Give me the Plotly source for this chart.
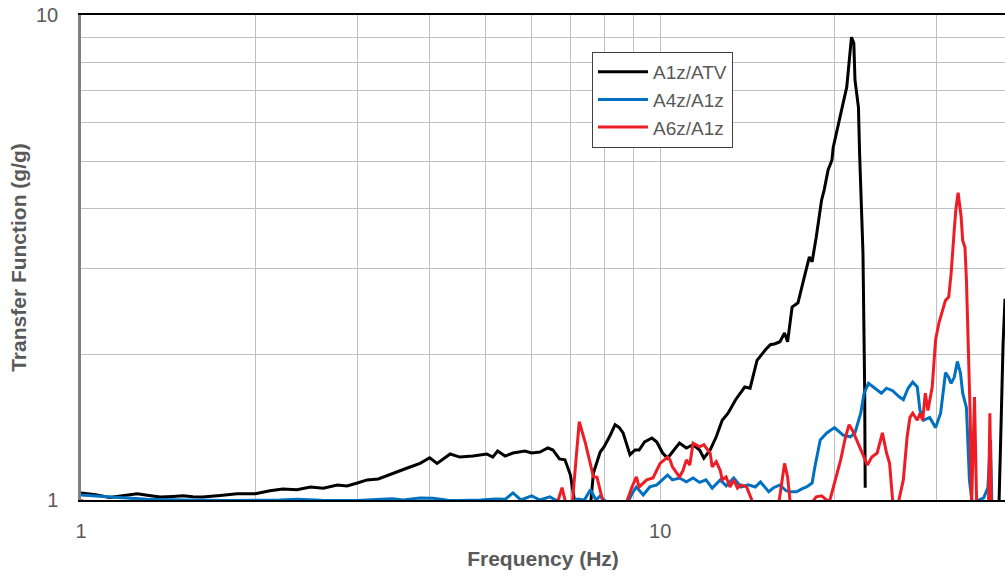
import math
import plotly.graph_objects as go

# ---------------- data ----------------
# A1z/ATV (black)
f_a1z = [1.0, 1.06, 1.12, 1.19, 1.25, 1.31, 1.37, 1.44, 1.5, 1.56, 1.62, 1.74, 1.86, 2.0,
         2.12, 2.23, 2.36, 2.49, 2.62, 2.77, 2.88, 3.0, 3.12, 3.26, 3.46, 3.66, 3.85, 4.0,
         4.12, 4.34, 4.51, 4.75, 5.02, 5.14, 5.24, 5.4, 5.57, 5.84, 6.0, 6.2, 6.4, 6.53,
         6.7, 6.85, 7.0, 7.14, 7.3, 7.45, 7.58, 7.67, 7.88, 8.0, 8.2, 8.36, 8.5, 8.63, 8.87,
         9.05, 9.2, 9.4, 9.68, 9.87, 10.1, 10.3, 10.5, 10.8, 11.1, 11.4, 11.7, 11.9, 12.2,
         12.5, 12.8, 13.1, 13.5, 14.0, 14.3, 14.7, 15.2, 15.5, 15.8, 16.1, 16.4, 16.6, 16.9,
         17.3, 17.8, 18.1, 18.3, 18.6, 19.0, 19.2, 19.5, 19.8, 19.9, 20.3, 20.7, 21.0, 21.2,
         21.4, 21.6, 21.7, 22.0, 22.1, 22.4, 22.5, 22.55, 22.6, 22.7,
         38.4, 38.6, 38.8, 39.1, 39.4]
v_a1z = [1.034, 1.025, 1.012, 1.02, 1.03, 1.022, 1.014, 1.017, 1.02, 1.016, 1.014, 1.022, 1.03, 1.03,
         1.045, 1.053, 1.05, 1.064, 1.058, 1.074, 1.069, 1.084, 1.1, 1.105, 1.137, 1.164, 1.19, 1.222,
         1.19, 1.244, 1.226, 1.232, 1.244, 1.226, 1.262, 1.232, 1.25, 1.262, 1.25, 1.256, 1.28, 1.268,
         1.215, 1.21, 1.126, 0.97, 0.9, 0.9, 0.97, 1.137, 1.256, 1.287, 1.36, 1.43, 1.41, 1.375, 1.24,
         1.268, 1.268, 1.317, 1.342, 1.317, 1.25, 1.22, 1.256, 1.31, 1.28, 1.3, 1.268, 1.22, 1.268,
         1.35, 1.46, 1.51, 1.61, 1.71, 1.70, 1.94, 2.04, 2.09, 2.1, 2.12, 2.21, 2.12, 2.5,
         2.55, 2.93, 3.17, 3.1, 3.48, 4.15, 4.36, 4.79, 5.02, 5.33, 5.98, 6.58, 7.1, 8.07,
         9.0, 8.75, 7.35, 6.45, 5.2, 3.23, 2.35, 1.71, 1.06, None,
         0.9, 1.25, 1.45, 2.1, 2.6]

# A4z/A1z (blue)
f_a4z = [1.0, 1.1, 1.2, 1.3, 1.5, 1.8, 2.2, 2.36, 2.6, 3.0, 3.3, 3.45, 3.6, 3.85, 4.05, 4.3,
         4.5, 4.9, 5.2, 5.4, 5.57, 5.75, 6.0, 6.2, 6.45, 6.6, 6.8, 7.0, 7.2, 7.4, 7.58, 7.75,
         7.88, 8.0, 8.2, 8.4, 8.6, 8.8, 8.94, 9.1, 9.35, 9.6, 9.87, 10.1, 10.3, 10.5, 10.8,
         11.1, 11.4, 11.7, 12.0, 12.3, 12.7, 13.0, 13.4, 13.8, 14.2, 14.6, 14.9, 15.4, 15.7,
         16.1, 16.5, 16.8, 17.2, 17.6, 17.9, 18.3, 18.5, 18.9, 19.4, 20.0, 20.7, 21.3, 21.7,
         22.2, 22.5, 22.9, 23.6, 24.1, 24.6, 25.2, 25.9, 26.3, 26.8, 27.3, 27.8, 28.1, 28.5,
         29.2, 29.9, 30.5, 31.1, 31.5, 31.8, 32.2, 32.6, 33.0, 33.3, 33.8, 34.0, 34.2, 34.6,
         35.5, 36.2, 36.8, 37.2, 37.4, 38.0]
v_a4z = [1.024, 1.015, 1.008, 1.003, 1.0, 0.998, 1.0, 1.004, 0.999, 0.998, 1.003, 1.006, 1.0, 1.01,
         1.008, 0.999, 0.998, 1.0, 1.005, 1.003, 1.034, 1.0, 1.02, 1.0, 1.015, 1.0, 0.99, 0.99, 1.005,
         1.0, 1.05, 1.0, 1.02, 1.0, 0.98, 0.97, 0.97, 0.99, 1.03, 1.064, 1.024, 1.064, 1.074, 1.1,
         1.126, 1.1, 1.11, 1.09, 1.11, 1.087, 1.1, 1.058, 1.1, 1.07, 1.11, 1.064, 1.075, 1.064,
         1.09, 1.04, 1.06, 1.074, 1.045, 1.04, 1.04, 1.055, 1.064, 1.084, 1.17, 1.33, 1.375, 1.41,
         1.36, 1.35, 1.375, 1.51, 1.66, 1.74, 1.69, 1.66, 1.70, 1.68, 1.63, 1.61, 1.70, 1.75, 1.71,
         1.53, 1.46, 1.48, 1.41, 1.51, 1.83, 1.79, 1.74, 1.79, 1.93, 1.83, 1.66, 1.55, 1.31, 1.1,
         0.98, 1.0, 1.01, 1.06, 1.33, 0.98, 0.9]

# A6z/A1z (red)
f_a6z = [1.0, 1.05, 3.0, 6.6, 6.77, 6.88, 7.05, 7.25, 7.43, 7.58, 7.67, 7.78, 7.88, 8.0, 8.7,
         8.94, 9.1, 9.2, 9.48, 9.72, 10.0, 10.3, 10.4, 10.5, 10.8, 10.95, 11.1, 11.25, 11.4,
         11.7, 11.9, 12.2, 12.3, 12.5, 12.7, 12.8, 13.0, 13.2, 13.4, 13.6, 13.8, 14.1, 14.4,
         14.6, 16.0, 16.2, 16.4, 16.6, 16.8, 18.2, 18.6, 19.0, 19.6, 20.0, 20.5, 20.9, 21.2,
         21.5, 21.9, 22.4, 22.8, 23.2, 23.7, 24.2, 24.6, 24.9, 25.2, 25.7, 26.3, 26.7, 27.0,
         27.3, 27.8, 28.1, 28.4, 28.7, 29.0, 29.5, 29.9, 30.3, 30.7, 31.1, 31.5, 31.7, 31.8,
         32.2, 32.4, 32.7, 32.9, 33.1, 33.3, 33.6, 33.8, 34.0, 34.1, 34.3, 34.5, 34.9, 35.2,
         36.9, 37.1, 37.3, 38.0]
v_a6z = [1.0, 0.96, 0.95, 0.96, 1.06, 0.98, 0.98, 1.45, 1.31, 1.19, 1.116, 1.115, 1.05, 0.97, 0.97,
         1.064, 1.116, 1.064, 1.1, 1.11, 1.19, 1.226, 1.21, 1.17, 1.116, 1.15, 1.21, 1.18, 1.31,
         1.287, 1.3, 1.25, 1.17, 1.2, 1.15, 1.1, 1.116, 1.064, 1.1, 1.058, 1.074, 1.064, 1.0,
         0.95, 0.97, 1.064, 1.19, 1.116, 0.97, 0.98, 1.015, 1.02, 0.99, 1.084, 1.21, 1.35, 1.43,
         1.39, 1.32, 1.25, 1.18, 1.226, 1.25, 1.375, 1.25, 1.19, 1.0, 0.97, 1.1, 1.35, 1.48,
         1.51, 1.46, 1.51, 1.46, 1.66, 1.53, 1.71, 2.14, 2.32, 2.46, 2.58, 2.62, 2.84, 2.93,
         3.6, 3.96, 4.3, 4.1, 3.83, 3.43, 3.32, 2.84, 2.24, 1.77, 1.51, 0.98, 1.63, 0.98,
         0.98, 1.51, 0.98, 0.9]

series_names = ["A1z/ATV", "A4z/A1z", "A6z/A1z"]
series_colors = ["#000000", "#0070C0", "#EE1D25"]

x_tickvals = [1, 2, 3, 4, 5, 6, 7, 8, 9, 10, 20, 30]
x_ticktext = ["1", "", "", "", "", "", "", "", "", "10", "", ""]
y_tickvals = [1, 2, 3, 4, 5, 6, 7, 8, 9, 10]
y_ticktext = ["1", "", "", "", "", "", "", "", "", "10"]
x_max = 39.4

# ---------------- figure ----------------
FONT = "Liberation Sans, Arial, sans-serif"
GRAY = "#595959"

fig = go.Figure()
for name, fx, vy, col in zip(series_names, [f_a1z, f_a4z, f_a6z], [v_a1z, v_a4z, v_a6z], series_colors):
    fig.add_trace(go.Scatter(x=fx, y=vy, mode="lines", name=name,
                             line=dict(color=col, width=3), connectgaps=False,
                             legendgroup=name))

fig.update_layout(
    width=1005, height=580,
    margin=dict(l=81, r=0, t=15, b=80),
    paper_bgcolor="white", plot_bgcolor="white",
    font=dict(family=FONT, color=GRAY),
    showlegend=True,
    legend=dict(x=0.553, y=0.924, xanchor="left", yanchor="top",
                bordercolor="#404040", borderwidth=1, bgcolor="white",
                font=dict(family=FONT, size=19, color=GRAY),
                itemwidth=50,
                traceorder="grouped", tracegroupgap=0),
)
fig.update_xaxes(
    type="log", range=[0, math.log10(x_max)],
    tickvals=x_tickvals, ticktext=x_ticktext,
    showgrid=True, gridcolor="#C0C0C0", gridwidth=1,
    showline=True, linecolor="#000000", linewidth=2, mirror=True,
    ticks="", tickfont=dict(family=FONT, size=20, color=GRAY),
    ticklabelstandoff=12,
    title=dict(text="<b>Frequency (Hz)</b>", font=dict(family=FONT, size=21, color=GRAY), standoff=10),
)
fig.update_yaxes(
    type="log", range=[0, 1],
    tickvals=y_tickvals, ticktext=y_ticktext,
    showgrid=True, gridcolor="#C0C0C0", gridwidth=1,
    showline=True, linecolor="#808080", linewidth=2.5,
    ticks="", tickfont=dict(family=FONT, size=20, color=GRAY),
    ticklabelstandoff=16,
    title=dict(text="<b>Transfer Function (g/g)</b>", font=dict(family=FONT, size=21, color=GRAY), standoff=4),
)

fig.write_html("out.html")
